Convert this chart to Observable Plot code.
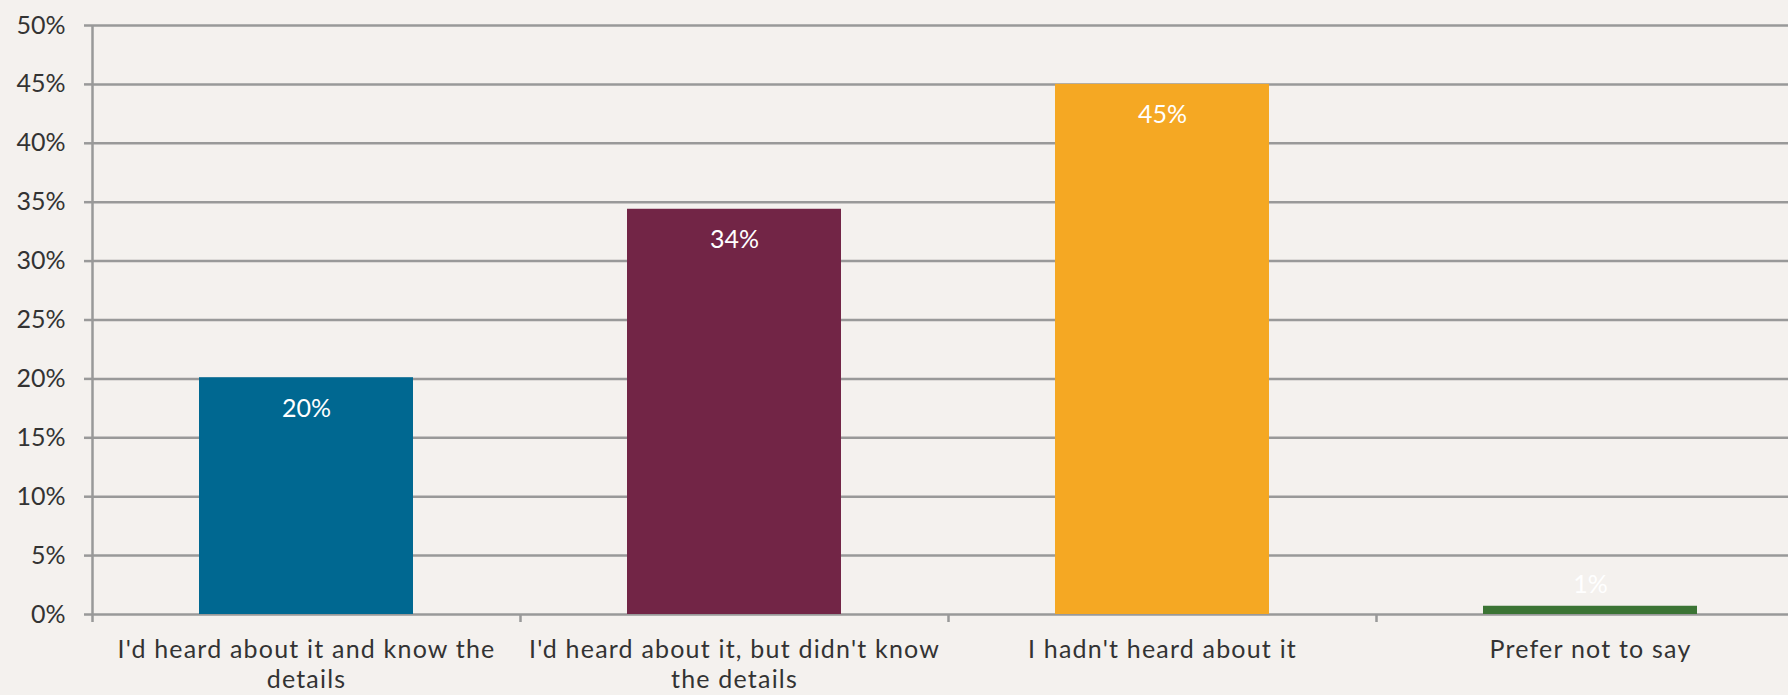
<!DOCTYPE html>
<html>
<head>
<meta charset="utf-8">
<script src="https://cdn.jsdelivr.net/npm/d3@7"></script>
<script src="https://cdn.jsdelivr.net/npm/@observablehq/plot@0.6"></script>
<style>
  html, body { margin: 0; padding: 0; background: #f4f1ee; overflow: hidden; }
  #chart svg { display: block; max-width: none !important; }
  .xlab text { letter-spacing: 1.2px; }
</style>
</head>
<body>
<div id="chart"></div>
<script>
// Data
const categories = [
  "I'd heard about it and know the details",
  "I'd heard about it, but didn't know the details",
  "I hadn't heard about it",
  "Prefer not to say"
];
const categoryLabels = [
  "I'd heard about it and know the\ndetails",
  "I'd heard about it, but didn't know\nthe details",
  "I hadn't heard about it",
  "Prefer not to say"
];
const values = [20.1, 34.4, 45.0, 0.7];
const colors = ["#006891", "#722546", "#f5a823", "#3b7434"];
const yTicks = [0, 5, 10, 15, 20, 25, 30, 35, 40, 45, 50];

const data = categories.map((c, i) => ({ category: c, i, value: values[i], color: colors[i] }));

const font = "Lato, 'Open Sans', sans-serif";
const grid = "#999999";

const chart = Plot.plot({
  width: 1804,
  height: 695,
  marginLeft: 92,
  marginRight: 0,
  marginTop: 25,
  marginBottom: 81,
  style: { background: "#f4f1ee", fontFamily: font, fontSize: "24px", color: "#333", maxWidth: "none" },
  x: { domain: [0, categories.length], axis: null },
  y: { domain: [0, 50], axis: null },
  marks: [
    Plot.gridY(yTicks, { stroke: grid, strokeOpacity: 1, strokeWidth: 2.5 }),
    Plot.axisY(yTicks, {
      tickSize: 8, tickPadding: 19, stroke: grid, strokeWidth: 2.5,
      tickFormat: d => d + "%", fontSize: 25, fill: "#333", label: null
    }),
    Plot.ruleX([0], { y1: 0, y2: 50, stroke: grid, strokeWidth: 2.5 }),
    Plot.axisX(d3.range(categories.length + 1), {
      tickSize: 8, stroke: grid, strokeWidth: 2.5, tickFormat: () => "", label: null
    }),
    Plot.axisX(categories.map((c, i) => i + 0.5), {
      tickSize: 0, tickPadding: 22, fontSize: 25, fill: "#333", lineHeight: 1.2,
      tickFormat: v => categoryLabels[Math.floor(v)], label: null, className: "xlab"
    }),
    Plot.rectY(data, {
      x1: d => d.i, x2: d => d.i + 1, y1: 0, y2: "value",
      fill: d => d.color, insetLeft: 107, insetRight: 107
    }),
    Plot.text(data.filter(d => d.value >= 5), {
      x: d => d.i + 0.5, y: "value", dy: 31, text: d => Math.round(d.value) + "%",
      fill: "white", fontSize: 25, textAnchor: "middle", lineAnchor: "middle"
    }),
    Plot.text(data.filter(d => d.value < 5), {
      x: d => d.i + 0.5, y: "value", dy: -21, text: d => Math.round(d.value) + "%",
      fill: "white", fontSize: 25, textAnchor: "middle", lineAnchor: "middle"
    })
  ]
});

document.getElementById("chart").appendChild(chart);
</script>
</body>
</html>
